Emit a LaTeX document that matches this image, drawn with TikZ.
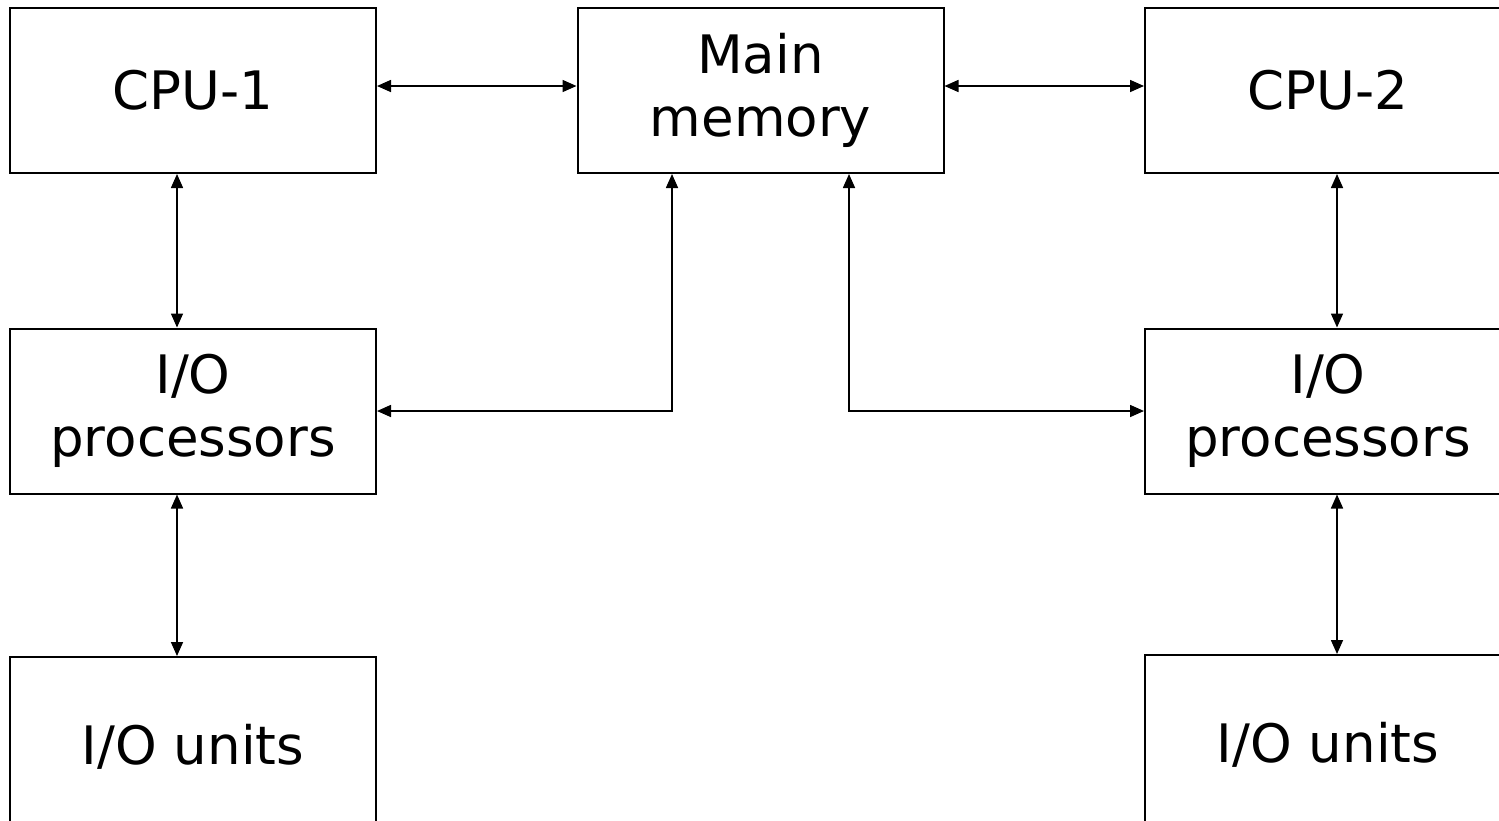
\documentclass[tikz,border=0pt]{standalone}
\usepackage{fontspec}
\setmainfont{DejaVu Sans}
\usetikzlibrary{arrows.meta}
\begin{document}
\begin{tikzpicture}[x=1pt,y=-1pt,
    unit/.style={draw, line width=2pt, minimum width=366pt, minimum height=165pt,
        inner sep=0pt, align=center, font=\fontsize{53}{63}\selectfont},
    link/.style={line width=1.6pt, {Triangle[length=14pt,width=12pt]}-{Triangle[length=14pt,width=12pt]}}]
    \useasboundingbox (0,0) rectangle (1499,820);

   %TOP ROW
    \node[unit] (cpu1) at (193,90.5) {CPU-1};
    \node[unit] (mem) at (760.5,90.5) {Main\\memory};
    \node[unit] (cpu2) at (1328,90.5) {CPU-2};

    %I/O PROCESSORS
    \node[unit] (iop1) at (193,411) {I/O\\processors};
    \node[unit] (iop2) at (1328,411) {I/O\\processors};

    %I/O UNITS
    \node[unit, minimum height=180pt] (iou1) at (193,747) {I/O units};
    \node[unit, minimum height=180pt] (iou2) at (1328,745) {I/O units};

    %LINKS
    \draw[link] ([yshift=4.5pt]cpu1.east) -- ([yshift=4.5pt]mem.west);
    \draw[link] ([yshift=4.5pt]mem.east) -- ([yshift=4.5pt]cpu2.west);
    \draw[link] ([xshift=-16pt]cpu1.south) -- ([xshift=-16pt]iop1.north);
    \draw[link] ([xshift=9pt]cpu2.south) -- ([xshift=9pt]iop2.north);
    \draw[link] ([xshift=-88.5pt]mem.south) |- (iop1.east);
    \draw[link] ([xshift=88.5pt]mem.south) |- (iop2.west);
    \draw[link] ([xshift=-16pt]iop1.south) -- ([xshift=-16pt]iou1.north);
    \draw[link] ([xshift=9pt]iop2.south) -- ([xshift=9pt]iou2.north);
\end{tikzpicture}
\end{document}
